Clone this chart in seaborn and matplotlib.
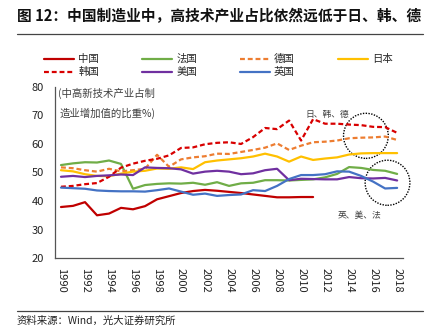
import numpy as np
import pandas as pd
import matplotlib
matplotlib.use("Agg")
import matplotlib.pyplot as plt
from matplotlib.patches import Ellipse
import seaborn as sns

years = list(range(1990, 2019))
nan = np.nan
china = [37.9, 38.3, 39.6, 35.0, 35.6, 37.6, 37.1, 38.2, 40.6, 41.7, 42.8, 43.5, 43.9, 43.6, 43.2,
         42.8, 42.3, 41.8, 41.3, 41.3, 41.4, 41.4, nan, nan, nan, nan, nan, nan, nan]
france = [52.6, 53.2, 53.6, 53.5, 54.2, 53.0, 44.3, 45.6, 46.0, 46.2, 46.1, 46.4, 45.7, 46.6, 45.3,
          46.2, 46.4, 47.3, 47.3, 47.2, 47.4, 47.6, 48.3, 49.5, 51.9, 51.6, 50.9, 50.6, 49.5]
germany = [51.8, 51.5, 50.8, 50.3, 51.3, 50.4, 50.8, 51.3, 56.2, 52.0, 54.6, 55.3, 55.7, 56.6, 56.5,
           57.2, 57.9, 58.7, 60.2, 57.9, 59.4, 60.6, 60.8, 61.2, 62.0, 62.2, 62.3, 62.6, 61.4]
japan = [50.8, 50.4, 49.4, 48.8, 48.7, 49.6, 50.3, 50.6, 51.4, 51.3, 51.8, 51.2, 53.6, 54.2, 54.6,
         55.0, 55.6, 56.6, 55.6, 53.8, 55.6, 54.4, 54.9, 55.3, 56.3, 56.7, 56.8, 56.8, 56.8]
korea = [45.0, 45.3, 45.9, 46.3, 48.5, 51.7, 53.1, 54.1, 54.8, 56.0, 58.6, 58.8, 59.9, 60.4, 60.6,
         60.0, 62.4, 65.6, 65.2, 68.2, 61.2, 68.7, 67.1, 67.1, 66.8, 66.6, 66.0, 65.9, 63.9]
usa = [48.5, 48.8, 48.4, 48.8, 49.0, 49.3, 49.1, 51.8, 51.6, 51.5, 51.1, 49.6, 50.3, 50.6, 50.3,
       49.4, 49.7, 50.8, 51.3, 47.3, 47.8, 47.7, 47.6, 47.6, 48.4, 48.0, 47.9, 48.1, 47.2]
uk = [44.7, 44.5, 44.3, 43.7, 43.5, 43.4, 43.4, 43.3, 43.8, 44.4, 43.3, 42.2, 42.6, 41.8, 42.1,
      42.3, 43.8, 43.5, 45.3, 47.7, 49.1, 49.1, 49.4, 50.4, 50.3, 48.8, 46.8, 44.4, 44.6]

names = ["中国", "法国", "德国", "日本", "韩国", "美国", "英国"]
series = [china, france, germany, japan, korea, usa, uk]
colors = ["#C00000", "#70AD47", "#ED7D31", "#FFC000", "#D80000", "#7030A0", "#4472C4"]
dashed = [False, False, True, False, True, False, False]
tick_years = list(range(1990, 2019, 2))
title = "图 12：中国制造业中，高技术产业占比依然远低于日、韩、德"
source = "资料来源：Wind，光大证券研究所"

sns.set_style("white")
plt.rcParams["font.family"] = ["Noto Sans CJK SC", "DejaVu Sans"]
plt.rcParams["axes.unicode_minus"] = False

fig = plt.figure(figsize=(4.33, 3.33), dpi=100)
ax = fig.add_axes([0.127, 0.225, 0.804, 0.514])

handles = {}
for name, vals, c, d in zip(names, series, colors, dashed):
    df = pd.DataFrame({"year": years, "v": vals})
    sns.lineplot(data=df, x="year", y="v", ax=ax, color=c, lw=1.6,
                 linestyle=(0, (2.2, 1.3)) if d else "-", label=name, legend=False)
    handles[name] = ax.lines[-1]

ax.set_xlim(1989.5, 2018.5)
ax.set_ylim(20, 80)
ax.set_yticks(range(20, 81, 10))
ax.set_xticks(tick_years)
ax.set_xticklabels([str(y) for y in tick_years], rotation=270, fontsize=8, color="#222222")
ax.tick_params(axis="x", length=0, pad=7)
ax.set_xticks([y + 1.5 for y in range(1990, 2017, 2)], minor=True)
ax.tick_params(axis="x", which="minor", direction="in", length=3, color="#888888")
ax.tick_params(axis="y", labelsize=8, length=2, direction="out", color="#888888", pad=6, labelcolor="#222222")
ax.set_xlabel("")
ax.set_ylabel("")
for s in ["top", "right"]:
    ax.spines[s].set_visible(False)
for s in ["left", "bottom"]:
    ax.spines[s].set_color("#555555")
    ax.spines[s].set_linewidth(0.9)

ax.text(1989.75, 77.9, "(中高新技术产业占制", fontsize=7.5, color="#404040", va="center", ha="left")
ax.text(1989.85, 70.6, "造业增加值的比重%)", fontsize=7.5, color="#404040", va="center", ha="left")

ax.text(2012.2, 70.4, "日、韩、德", fontsize=6.3, color="#404040", ha="center", va="center")
ax.text(2014.9, 34.8, "英、美、法", fontsize=6.3, color="#404040", ha="center", va="center")
ax.add_patch(Ellipse((2015.4, 62.85), 3.73, 15.8, fill=False, ls=(0, (1, 1)), lw=1.0,
                     ec="black", clip_on=False))
ax.add_patch(Ellipse((2017.2, 46.4), 3.73, 15.8, fill=False, ls=(0, (1, 1)), lw=1.0,
                     ec="black", clip_on=False))

order = ["中国", "韩国", "法国", "美国", "德国", "英国", "日本"]
fig.legend([handles[n] for n in order], order, loc="upper left",
           bbox_to_anchor=(44 / 433, 1 - 54 / 333), ncol=4, frameon=False,
           fontsize=7.5, handlelength=2.9, handletextpad=0.4, columnspacing=4.1,
           labelspacing=0.3, borderpad=0, borderaxespad=0)

fig.text(17 / 433, 1 - 16 / 333, title, fontsize=10.6, fontweight="bold", color="#111111",
         ha="left", va="center")
fig.add_artist(plt.Line2D([17 / 433, 423 / 433], [1 - 33.5 / 333] * 2, color="#444444", lw=0.9))
fig.add_artist(plt.Line2D([17 / 433, 423 / 433], [1 - 310.5 / 333] * 2, color="#444444", lw=0.9))
fig.text(17 / 433, 1 - 321 / 333, source, fontsize=7.5, color="#222222", ha="left", va="center")

fig.savefig("out.png", dpi=100)
